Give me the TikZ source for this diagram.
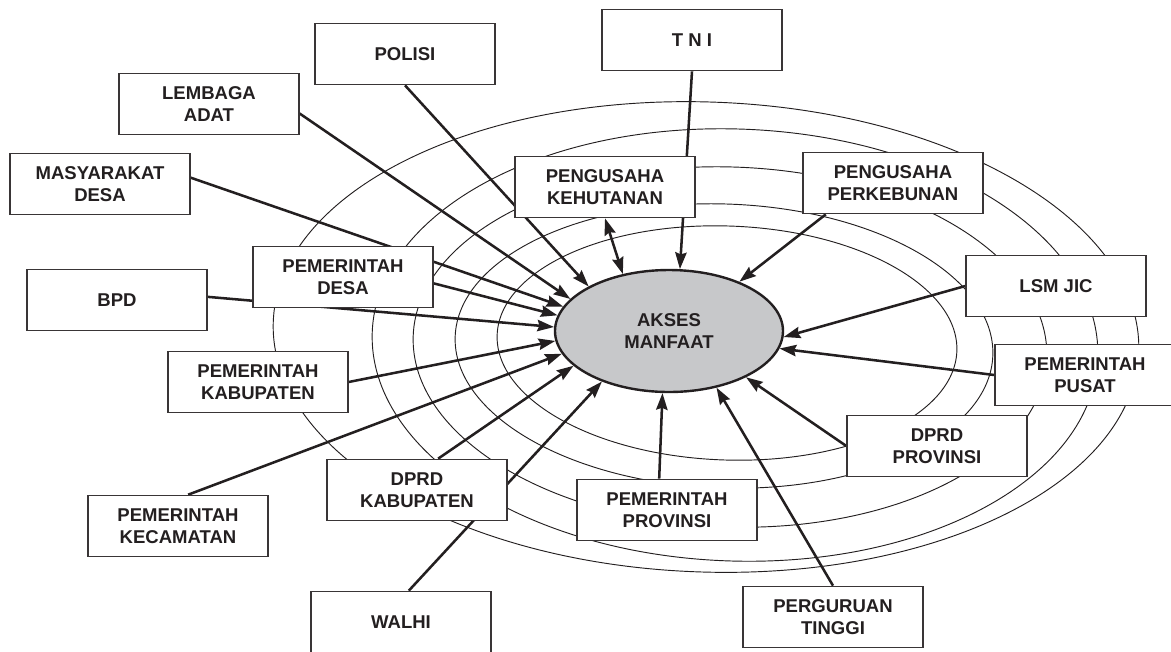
\documentclass[tikz,border=0pt]{standalone}
\usepackage{fontspec}
\setmainfont{Liberation Sans}
\usepackage{xcolor}
\usetikzlibrary{arrows.meta,shapes.geometric}
\pgfdeclarelayer{rings}
\pgfdeclarelayer{links}
\pgfsetlayers{rings,links,main}
\definecolor{ink}{HTML}{231F20}
\definecolor{core}{HTML}{C7C8CA}

\begin{document}
\begin{tikzpicture}[x=0.75pt,y=-0.75pt,font=\fontsize{13.9pt}{16.3pt}\selectfont\bfseries,
  >={Stealth[length=12.5pt,width=8.5pt,inset=1.5pt]},
  actor/.style={draw=ink!90,line width=1pt,fill=white,text=ink,minimum width=135pt,minimum height=46pt,inner sep=0pt,align=center},
  ring/.style={draw=ink,line width=0.7pt},
  link/.style={draw=ink,line width=1.9pt,->}]
  \useasboundingbox (0,0) rectangle (1171,651);
  \node[ellipse,draw=ink,line width=1.8pt,fill=core,text=ink,minimum width=171pt,minimum height=91.5pt,inner sep=0pt,align=center] (akses) at (669,331) {AKSES\\MANFAAT};
  \node[actor] (polisi) at (405,54) {POLISI};
  \node[actor] (tni) at (692,40) {T N I};
  \node[actor] (lembaga) at (209,104) {LEMBAGA\\ADAT};
  \node[actor] (masyarakat) at (100,184) {MASYARAKAT\\DESA};
  \node[actor] (bpd) at (117,300) {BPD};
  \node[actor] (desa) at (343,277) {PEMERINTAH\\DESA};
  \node[actor] (kabupaten) at (258,382) {PEMERINTAH\\KABUPATEN};
  \node[actor] (kecamatan) at (178,526) {PEMERINTAH\\KECAMATAN};
  \node[actor] (dprdkab) at (417,490) {DPRD\\KABUPATEN};
  \node[actor] (walhi) at (401,622) {WALHI};
  \node[actor] (perguruan) at (833,617) {PERGURUAN\\TINGGI};
  \node[actor] (provinsi) at (667,510) {PEMERINTAH\\PROVINSI};
  \node[actor] (dprdprov) at (937,446) {DPRD\\PROVINSI};
  \node[actor] (pusat) at (1085,375) {PEMERINTAH\\PUSAT};
  \node[actor] (lsm) at (1056,286) {LSM JIC};
  \node[actor] (perkebunan) at (893,183) {PENGUSAHA\\PERKEBUNAN};
  \node[actor] (kehutanan) at (605,187) {PENGUSAHA\\KEHUTANAN};
  \begin{pgfonlayer}{rings}
    \foreach \cx/\cy/\rx/\ry in {706/337/433/235,735/345/363/216,730/347/317/180,724/346/269/142,727/343/230/117}
      {\draw[ring,rotate around={-2:(\cx,\cy)}] (\cx,\cy) ellipse [x radius=\rx,y radius=\ry];}
  \end{pgfonlayer}
  \begin{pgfonlayer}{links}
    \foreach \from/\ang in {polisi.south/151,lembaga.-6/162,masyarakat.4/167,desa.-4/172,bpd.2/178,kabupaten.east/185,kecamatan.72/192,dprdkab.56/200,walhi.76/217,provinsi.104/264,perguruan.north/310,dprdprov.west/329,pusat.west/351,lsm.west/357,perkebunan.205/35,tni.south/80}
      {\draw[link] (\from) -- (akses.\ang);}
    \draw[link,<->] (kehutanan.south) -- (akses.129);
  \end{pgfonlayer}
\end{tikzpicture}
\end{document}
